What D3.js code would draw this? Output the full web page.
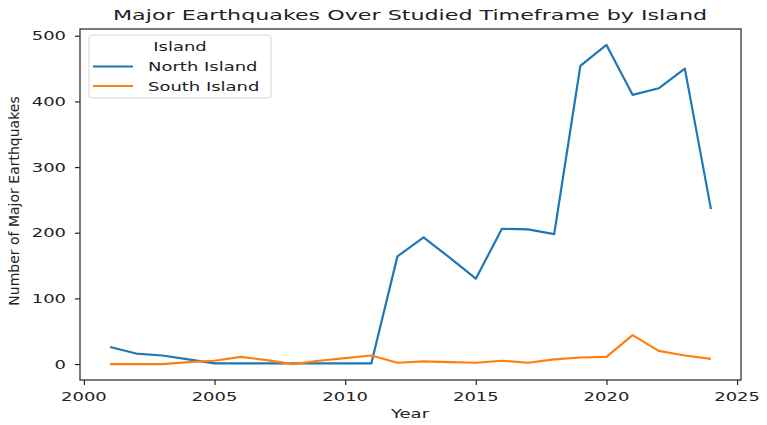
<!DOCTYPE html>
<html>
<head>
<meta charset="utf-8">
<script src="https://cdn.jsdelivr.net/npm/d3@7"></script>
<style>
  body { margin: 0; background: #fff; }
  text { font-family: "DejaVu Sans", sans-serif; fill: #222; }
</style>
</head>
<body>
<div id="chart"></div>
<script>
// data
const years = [2001, 2002, 2003, 2004, 2005, 2006, 2007, 2008, 2009, 2010, 2011, 2012,
  2013, 2014, 2015, 2016, 2017, 2018, 2019, 2020, 2021, 2022, 2023, 2024];
const northIsland = [26, 16, 13, 7, 1, 1, 1, 1, 1, 1, 1, 164,
  193, 162, 130, 206, 205, 198, 454, 486, 410, 420, 450, 236];
const southIsland = [0, 0, 0, 3, 5, 11, 6, 0, 5, 9, 13, 2,
  4, 3, 2, 5, 2, 7, 10, 11, 44, 20, 13, 8];
const seriesNames = ["North Island", "South Island"];
const xTicks = [2000, 2005, 2010, 2015, 2020, 2025];
const yTicks = [0, 100, 200, 300, 400, 500];

const width = 767, height = 425;
const margin = {top: 29, right: 26, bottom: 45, left: 80};
const sx = 1.45; // text in the picture is stretched sideways

const colors = ["#1f77b4", "#ff7f0e"];
const series = [northIsland, southIsland];

const svg = d3.select("#chart").append("svg")
  .attr("width", width)
  .attr("height", height);

// same padding as matplotlib: 5% each side
const xScale = d3.scaleLinear()
  .domain([2001 - 23 * 0.05, 2024 + 23 * 0.05])
  .range([margin.left, width - margin.right]);
const yScale = d3.scaleLinear()
  .domain([0 - 486 * 0.05, 486 * 1.05])
  .range([height - margin.bottom, margin.top]);

function stretchedText(g, x, y, str, size, anchor, s = sx) {
  return g.append("text")
    .attr("transform", `translate(${x},${y}) scale(${s},1)`)
    .attr("text-anchor", anchor)
    .style("font-size", size + "px")
    .text(str);
}

// lines
const line = d3.line()
  .x((d, i) => xScale(years[i]))
  .y(d => yScale(d));

series.forEach((s, k) => {
  svg.append("path")
    .datum(s)
    .attr("fill", "none")
    .attr("stroke", colors[k])
    .attr("stroke-width", 2.2)
    .attr("stroke-linejoin", "round")
    .attr("d", line);
});

// x axis
const xAxis = svg.append("g")
  .attr("transform", `translate(0,${height - margin.bottom})`)
  .call(d3.axisBottom(xScale).tickValues(xTicks).tickSize(5).tickFormat(""));
xAxis.select(".domain").remove();
xAxis.selectAll("line").attr("stroke", "#222").attr("stroke-width", 1.2);
xTicks.forEach(t => stretchedText(svg, xScale(t), 400.5, String(t), 12.4, "middle"));

// y axis
const yAxis = svg.append("g")
  .attr("transform", `translate(${margin.left},0)`)
  .call(d3.axisLeft(yScale).tickValues(yTicks).tickSize(5).tickFormat(""));
yAxis.select(".domain").remove();
yAxis.selectAll("line").attr("stroke", "#222").attr("stroke-width", 1.2);
yTicks.forEach(t => stretchedText(svg, 66, yScale(t) + 4.5, String(t), 12.4, "end"));

// frame
svg.append("rect")
  .attr("x", margin.left)
  .attr("y", margin.top)
  .attr("width", width - margin.left - margin.right)
  .attr("height", height - margin.top - margin.bottom)
  .attr("fill", "none")
  .attr("stroke", "#333")
  .attr("stroke-width", 1.3);

// title and axis labels
stretchedText(svg, 410, 20, "Major Earthquakes Over Studied Timeframe by Island", 14.8, "middle", 1.5);
stretchedText(svg, 410, 418, "Year", 12.4, "middle");
svg.append("text")
  .attr("transform", "translate(19,201) rotate(-90)")
  .attr("text-anchor", "middle")
  .style("font-size", "14px")
  .text("Number of Major Earthquakes");

// legend
const legend = svg.append("g");
legend.append("rect")
  .attr("x", 89).attr("y", 35)
  .attr("width", 182).attr("height", 63)
  .attr("rx", 3)
  .attr("fill", "#fff").attr("fill-opacity", 0.8)
  .attr("stroke", "#d6d6d6");
stretchedText(legend, 180, 51, "Island", 12.4, "middle");
seriesNames.forEach((name, k) => {
  const ly = 66.5 + k * 19.5;
  legend.append("line")
    .attr("x1", 93).attr("x2", 133)
    .attr("y1", ly).attr("y2", ly)
    .attr("stroke", colors[k]).attr("stroke-width", 2.1);
  stretchedText(legend, 148, ly + 4.5, name, 12.4, "start");
});
</script>
</body>
</html>
